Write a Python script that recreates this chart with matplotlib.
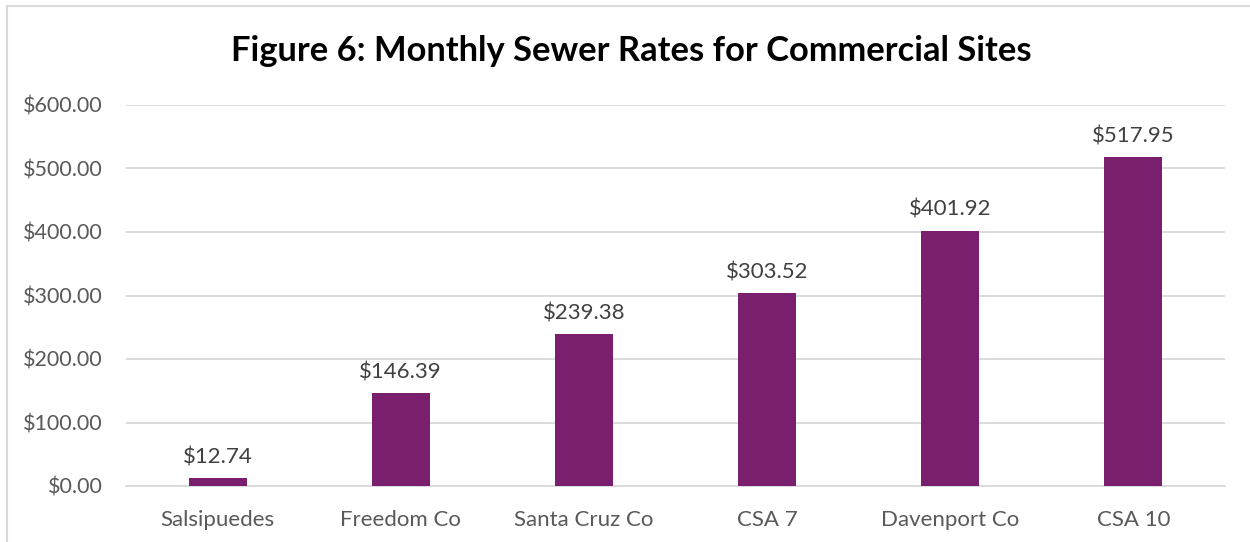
import matplotlib.pyplot as plt
from matplotlib.patches import Rectangle

sites = ["Salsipuedes", "Freedom Co", "Santa Cruz Co", "CSA 7", "Davenport Co", "CSA 10"]
rates = [12.74, 146.39, 239.38, 303.52, 401.92, 517.95]
y_ticks = [0, 100, 200, 300, 400, 500, 600]

plt.rcParams['font.family'] = ['Lato', 'DejaVu Sans']

W, H = 1250, 542
fig = plt.figure(figsize=(W / 100, H / 100), dpi=100)
ax = fig.add_axes([126 / W, 1 - 486 / H, (1225 - 126) / W, (486 - 105) / H])

x = list(range(len(sites)))
bars = ax.bar(x, rates, width=0.317, color='#7A1F6D', zorder=3)

for xi, v in zip(x, rates):
    ax.text(xi, v + 17, f"${v:,.2f}", ha='center', va='bottom',
            fontsize=16, color='#404040')

ax.set_xlim(-0.5, len(sites) - 0.5)
ax.set_ylim(0, 600)
ax.set_yticks(y_ticks)
ax.set_yticklabels([f"${t:,.2f}" for t in y_ticks])
ax.set_xticks(x)
ax.set_xticklabels(sites)
ax.tick_params(axis='both', length=0, labelsize=15.5, colors='#595959')
ax.tick_params(axis='x', labelsize=16)
ax.tick_params(axis='y', pad=17)
ax.tick_params(axis='x', pad=17)
ax.grid(axis='y', color='#D9D9D9', linewidth=1.3, zorder=0)
for s in ['top', 'right', 'left']:
    ax.spines[s].set_visible(False)
ax.spines['bottom'].set_color('#D9D9D9')
ax.spines['bottom'].set_linewidth(1.3)

fig.text(631 / W, 1 - 51 / H, "Figure 6: Monthly Sewer Rates for Commercial Sites",
         ha='center', va='center', fontsize=24.8, fontweight='bold', color='black')

# chart frame (cropped at right and bottom)
fig.add_artist(Rectangle((7 / W, -0.1), 1.2, 1 - 6 / H + 0.1, transform=fig.transFigure,
                         fill=False, edgecolor='#D9D9D9', linewidth=1.5))

fig.savefig("out.png", dpi=100)
